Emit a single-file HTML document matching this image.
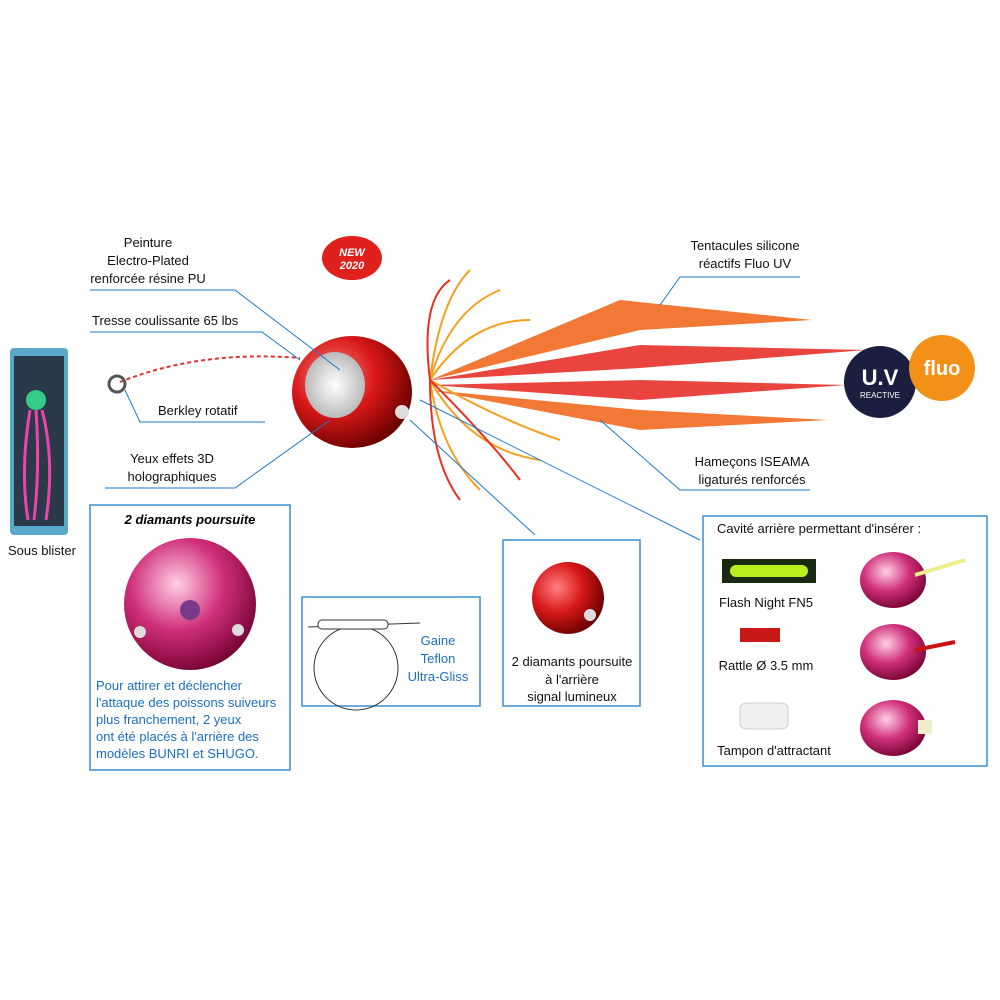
<!DOCTYPE html>
<html><head><meta charset="utf-8"><style>
body{margin:0;background:#fff;}
svg{display:block;font-family:"Liberation Sans",sans-serif;}
.t{font-size:13px;fill:#111;}
.b{font-size:13px;fill:#1a6fc0;}
</style></head><body>
<svg width="1000" height="1000" viewBox="0 0 1000 1000" xmlns="http://www.w3.org/2000/svg">
<defs>
<radialGradient id="red" cx="35%" cy="35%" r="70%"><stop offset="0" stop-color="#ff8080"/><stop offset=".5" stop-color="#d81818"/><stop offset="1" stop-color="#6a0000"/></radialGradient>
<radialGradient id="pink" cx="40%" cy="35%" r="70%"><stop offset="0" stop-color="#ffd0e8"/><stop offset=".5" stop-color="#d0307a"/><stop offset="1" stop-color="#700030"/></radialGradient>
<radialGradient id="eye" cx="50%" cy="50%" r="50%"><stop offset="0" stop-color="#fff"/><stop offset="1" stop-color="#bbb"/></radialGradient>
</defs>
<!-- blister -->
<rect x="10" y="348" width="58" height="187" rx="4" fill="#5aa8c8"/>
<rect x="14" y="356" width="50" height="170" fill="#2a3a4a"/>
<circle cx="36" cy="400" r="10" fill="#3c8"/>
<path d="M30 410 Q20 470 28 520 M36 410 Q40 470 34 520 M42 410 Q55 460 46 520" stroke="#e4a" stroke-width="3" fill="none"/>
<text class="t" x="8" y="555">Sous blister</text>
<!-- NEW badge -->
<ellipse cx="352" cy="258" rx="30" ry="22" fill="#e0201a"/>
<text x="352" y="256" font-size="11" font-weight="bold" fill="#fff" text-anchor="middle" font-style="italic">NEW</text>
<text x="352" y="269" font-size="11" font-weight="bold" fill="#fff" text-anchor="middle" font-style="italic">2020</text>
<!-- line/swivel -->
<path d="M120 382 Q200 350 300 358" stroke="#d33" stroke-width="2" fill="none" stroke-dasharray="4 3"/>
<circle cx="117" cy="384" r="8" fill="none" stroke="#555" stroke-width="3"/>
<!-- tentacles -->
<g fill="#f06a20" opacity=".9">
<path d="M430 380 L620 300 L812 320 L640 330 Z"/>
<path d="M430 380 L640 345 L866 350 L640 368 Z" fill="#e8302a"/>
<path d="M430 385 L640 380 L846 385 L640 400 Z" fill="#e8302a"/>
<path d="M430 390 L640 410 L828 420 L640 430 Z"/>
</g>
<g stroke="#f5a020" stroke-width="2" fill="none">
<path d="M430 380 Q440 300 470 270"/><path d="M430 380 Q450 310 500 290"/><path d="M430 380 Q470 320 530 320"/>
<path d="M430 380 Q440 450 480 490"/><path d="M430 380 Q470 450 540 460"/><path d="M430 380 Q500 420 560 440"/>
</g>
<g stroke="#e83020" stroke-width="2" fill="none">
<path d="M430 380 Q420 300 450 280"/><path d="M430 380 Q430 460 460 500"/><path d="M430 380 Q490 440 520 480"/>
</g>
<!-- head -->
<ellipse cx="352" cy="392" rx="60" ry="56" fill="url(#red)"/>
<ellipse cx="335" cy="385" rx="30" ry="33" fill="url(#eye)"/>
<circle cx="402" cy="412" r="7" fill="#ddd"/>
<!-- UV & fluo -->
<circle cx="880" cy="382" r="36" fill="#1a1f40"/>
<text x="880" y="385" font-size="22" font-weight="bold" fill="#fff" text-anchor="middle">U.V</text>
<text x="880" y="398" font-size="8" fill="#fff" text-anchor="middle">REACTIVE</text>
<circle cx="942" cy="368" r="33" fill="#f39018"/>
<text x="942" y="375" font-size="20" font-weight="bold" fill="#fff" text-anchor="middle">fluo</text>
<!-- labels -->
<text class="t" x="148" y="247" text-anchor="middle">Peinture</text>
<text class="t" x="148" y="265" text-anchor="middle">Electro-Plated</text>
<text class="t" x="148" y="283" text-anchor="middle">renforcée résine PU</text>
<text class="t" x="92" y="325">Tresse coulissante 65 lbs</text>
<text class="t" x="158" y="415">Berkley rotatif</text>
<text class="t" x="172" y="463" text-anchor="middle">Yeux effets 3D</text>
<text class="t" x="172" y="481" text-anchor="middle">holographiques</text>
<text class="t" x="745" y="250" text-anchor="middle">Tentacules silicone</text>
<text class="t" x="745" y="268" text-anchor="middle">réactifs Fluo UV</text>
<text class="t" x="752" y="466" text-anchor="middle">Hameçons ISEAMA</text>
<text class="t" x="752" y="484" text-anchor="middle">ligaturés renforcés</text>
<g stroke="#1a7ac8" stroke-width="1" fill="none">
<path d="M90 290 L235 290 L340 370"/>
<path d="M90 332 L262 332 L300 360"/>
<path d="M125 390 L140 422 L265 422"/>
<path d="M105 488 L235 488 L330 420"/>
<path d="M800 277 L680 277 L660 305"/>
<path d="M810 490 L680 490 L600 420"/>
<path d="M410 420 L535 535"/>
<path d="M420 400 L700 540"/>
</g>
<!-- left box -->
<rect x="90" y="505" width="200" height="265" fill="none" stroke="#3a8fd0" stroke-width="1.5"/>
<text x="190" y="524" font-size="13" font-weight="bold" font-style="italic" text-anchor="middle">2 diamants poursuite</text>
<circle cx="190" cy="604" r="66" fill="url(#pink)"/>
<circle cx="190" cy="610" r="10" fill="#7a3a8a"/>
<circle cx="140" cy="632" r="6" fill="#ddd"/><circle cx="238" cy="630" r="6" fill="#ddd"/>
<text class="b" x="96" y="690">Pour  attirer  et  déclencher</text>
<text class="b" x="96" y="707">l'attaque des poissons suiveurs</text>
<text class="b" x="96" y="724">plus   franchement,   2   yeux</text>
<text class="b" x="96" y="741">ont  été placés à l'arrière des</text>
<text class="b" x="96" y="758">modèles BUNRI et SHUGO.</text>
<!-- middle box -->
<rect x="302" y="597" width="178" height="109" fill="none" stroke="#3a8fd0" stroke-width="1.5"/>
<circle cx="356" cy="668" r="42" fill="none" stroke="#333"/>
<line x1="308" y1="627" x2="420" y2="623" stroke="#333"/>
<rect x="318" y="620" width="70" height="9" rx="4" fill="#fff" stroke="#333"/>
<text class="b" x="438" y="645" text-anchor="middle">Gaine</text>
<text class="b" x="438" y="663" text-anchor="middle">Teflon</text>
<text class="b" x="438" y="681" text-anchor="middle">Ultra-Gliss</text>
<!-- box 3 -->
<rect x="503" y="540" width="137" height="166" fill="none" stroke="#3a8fd0" stroke-width="1.5"/>
<circle cx="568" cy="598" r="36" fill="url(#red)"/>
<circle cx="590" cy="615" r="6" fill="#ddd"/>
<text class="t" x="572" y="666" text-anchor="middle">2 diamants poursuite</text>
<text class="t" x="572" y="684" text-anchor="middle">à l'arrière</text>
<text class="t" x="572" y="701" text-anchor="middle">signal lumineux</text>
<!-- right box -->
<rect x="703" y="516" width="284" height="250" fill="none" stroke="#3a8fd0" stroke-width="1.5"/>
<text class="t" x="717" y="533">Cavité arrière permettant d'insérer :</text>
<rect x="722" y="559" width="94" height="24" fill="#1a2a10"/>
<rect x="730" y="565" width="78" height="12" rx="6" fill="#b8f020"/>
<text class="t" x="766" y="607" text-anchor="middle">Flash Night FN5</text>
<rect x="740" y="628" width="40" height="14" fill="#c81818"/>
<text class="t" x="766" y="670" text-anchor="middle">Rattle Ø 3.5 mm</text>
<rect x="740" y="703" width="48" height="26" rx="6" fill="#f0f0f0" stroke="#ccc"/>
<text class="t" x="774" y="755" text-anchor="middle">Tampon d'attractant</text>
<ellipse cx="893" cy="580" rx="33" ry="28" fill="url(#pink)"/>
<line x1="915" y1="575" x2="965" y2="560" stroke="#ee8" stroke-width="4"/>
<ellipse cx="893" cy="652" rx="33" ry="28" fill="url(#pink)"/>
<line x1="915" y1="650" x2="955" y2="642" stroke="#c11" stroke-width="4"/>
<ellipse cx="893" cy="728" rx="33" ry="28" fill="url(#pink)"/>
<rect x="918" y="720" width="14" height="14" fill="#eec"/>
</svg>
</body></html>
